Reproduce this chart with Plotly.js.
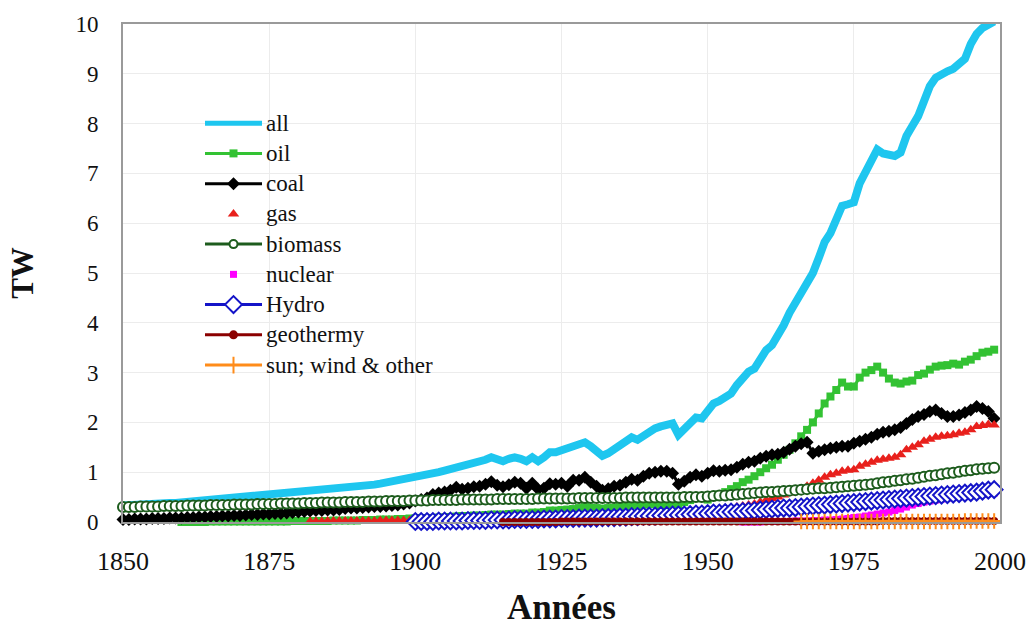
<!DOCTYPE html>
<html><head><meta charset="utf-8">
<script src="https://cdn.plot.ly/plotly-3.0.1.min.js"></script>
<style>html,body{margin:0;padding:0;background:#fff}#chart{width:1029px;height:628px}</style>
</head><body><div id="chart"></div>
<script>
// ---- data (TW), one value per year from the given start year ----
const seriesNames = ["all", "oil", "coal", "gas", "biomass", "nuclear", "Hydro", "geothermy", "sun; wind & other"];
const xTickValues = [1850, 1875, 1900, 1925, 1950, 1975, 2000];
const yTickValues = [0, 1, 2, 3, 4, 5, 6, 7, 8, 9, 10];

const allStart = 1850;
const allValues = [
 0.33,0.34,0.34,0.35,0.36,0.36,0.37,0.37,0.38,0.38,
 0.39,0.40,0.40,0.41,0.42,0.43,0.44,0.45,0.46,0.47,
 0.48,0.49,0.50,0.51,0.52,0.53,0.54,0.55,0.56,0.57,
 0.58,0.59,0.60,0.62,0.63,0.64,0.65,0.66,0.68,0.69,
 0.71,0.72,0.74,0.75,0.77,0.79,0.81,0.84,0.86,0.88,
 0.90,0.93,0.95,0.98,1.00,1.03,1.06,1.10,1.09,1.13,
 1.17,1.19,1.25,1.30,1.24,1.22,1.27,1.30,1.27,1.22,
 1.30,1.22,1.30,1.40,1.40,1.44,1.45,1.53,1.54,1.60,
 1.52,1.43,1.33,1.38,1.46,1.52,1.62,1.70,1.65,1.74,
 1.82,1.88,1.92,1.95,1.98,1.75,1.88,2.02,2.10,2.08,
 2.22,2.38,2.43,2.50,2.58,2.75,2.92,3.02,3.08,3.30,
 3.45,3.55,3.72,3.95,4.20,4.40,4.60,4.78,5.00,5.30,
 5.62,5.80,6.10,6.35,6.38,6.42,6.80,7.05,7.25,7.48,
 7.40,7.36,7.35,7.42,7.75,7.95,8.15,8.45,8.75,8.92,
 9.00,9.05,9.10,9.20,9.30,9.60,9.80,9.92,10.00,10.05];

const oilStart = 1860;
const oilValues = [
 0.00,0.00,0.00,0.00,0.00,0.01,0.01,0.01,0.01,0.01,
 0.01,0.01,0.01,0.01,0.01,0.01,0.01,0.01,0.01,0.02,
 0.02,0.02,0.02,0.02,0.02,0.02,0.03,0.03,0.03,0.03,
 0.03,0.04,0.04,0.04,0.05,0.05,0.05,0.06,0.06,0.07,
 0.07,0.08,0.08,0.08,0.09,0.09,0.10,0.11,0.12,0.12,
 0.13,0.13,0.14,0.15,0.15,0.15,0.16,0.17,0.17,0.17,
 0.19,0.19,0.20,0.23,0.23,0.24,0.25,0.26,0.28,0.30,
 0.29,0.28,0.27,0.28,0.29,0.30,0.32,0.34,0.34,0.35,
 0.36,0.36,0.34,0.36,0.38,0.36,0.40,0.44,0.48,0.48,
 0.45,0.50,0.55,0.60,0.66,0.72,0.80,0.85,0.92,1.00,
 1.08,1.15,1.25,1.35,1.45,1.58,1.72,1.85,2.00,2.18,
 2.38,2.52,2.65,2.80,2.72,2.72,2.90,3.00,3.05,3.12,
 3.00,2.88,2.80,2.78,2.82,2.84,2.95,2.98,3.06,3.12,
 3.14,3.15,3.18,3.16,3.22,3.26,3.33,3.40,3.42,3.46];

const coalStart = 1850;
const coalValues = [
 0.05,0.05,0.06,0.06,0.06,0.07,0.07,0.07,0.08,0.08,
 0.08,0.09,0.09,0.10,0.10,0.11,0.11,0.12,0.12,0.13,
 0.13,0.14,0.15,0.15,0.16,0.16,0.17,0.17,0.18,0.19,
 0.20,0.21,0.22,0.23,0.23,0.24,0.24,0.25,0.27,0.28,
 0.28,0.29,0.30,0.31,0.31,0.32,0.33,0.34,0.36,0.38,
 0.42,0.45,0.48,0.55,0.58,0.60,0.64,0.70,0.66,0.68,
 0.71,0.72,0.76,0.81,0.74,0.71,0.75,0.80,0.78,0.68,
 0.78,0.66,0.68,0.77,0.76,0.78,0.72,0.84,0.84,0.90,
 0.80,0.72,0.64,0.67,0.72,0.74,0.80,0.86,0.84,0.92,
 0.98,1.00,1.02,1.02,0.98,0.76,0.82,0.90,0.95,0.92,
 0.98,1.03,1.02,1.04,1.05,1.10,1.16,1.20,1.22,1.28,
 1.32,1.35,1.36,1.40,1.46,1.52,1.57,1.60,1.38,1.42,
 1.45,1.48,1.50,1.52,1.52,1.58,1.62,1.66,1.70,1.76,
 1.80,1.82,1.85,1.90,1.98,2.06,2.12,2.16,2.22,2.25,
 2.18,2.12,2.12,2.15,2.20,2.25,2.32,2.28,2.22,2.08];

const gasStart = 1882;
const gasValues = [
 0.01,0.01,0.01,0.02,0.02,0.02,0.02,0.02,
 0.02,0.02,0.02,0.02,0.03,0.03,0.03,0.03,0.03,0.03,
 0.04,0.04,0.04,0.04,0.05,0.05,0.05,0.06,0.06,0.06,
 0.07,0.07,0.07,0.08,0.08,0.08,0.08,0.09,0.09,0.09,
 0.09,0.09,0.10,0.10,0.11,0.11,0.12,0.12,0.13,0.13,
 0.13,0.12,0.12,0.12,0.13,0.13,0.14,0.15,0.15,0.16,
 0.17,0.17,0.18,0.18,0.19,0.19,0.20,0.21,0.22,0.23,
 0.24,0.25,0.26,0.27,0.28,0.30,0.32,0.34,0.36,0.40,
 0.44,0.47,0.50,0.54,0.58,0.62,0.66,0.72,0.78,0.84,
 0.90,0.95,0.98,1.02,1.04,1.05,1.12,1.16,1.20,1.24,
 1.26,1.28,1.30,1.35,1.45,1.50,1.55,1.62,1.66,1.70,
 1.72,1.73,1.75,1.78,1.80,1.85,1.92,1.94,1.96,1.95];

const biomassStart = 1850;
const biomassValues = [
 0.30,0.30,0.30,0.31,0.31,0.31,0.31,0.32,0.32,0.32,
 0.32,0.33,0.33,0.33,0.33,0.34,0.34,0.34,0.34,0.35,
 0.35,0.35,0.35,0.36,0.36,0.36,0.36,0.37,0.37,0.37,
 0.37,0.38,0.38,0.38,0.39,0.39,0.39,0.39,0.40,0.40,
 0.40,0.40,0.41,0.41,0.41,0.42,0.42,0.42,0.42,0.43,
 0.43,0.43,0.43,0.44,0.44,0.44,0.44,0.44,0.45,0.45,
 0.45,0.45,0.45,0.45,0.46,0.46,0.46,0.46,0.46,0.46,
 0.46,0.47,0.47,0.47,0.47,0.47,0.47,0.47,0.48,0.48,
 0.48,0.48,0.48,0.48,0.48,0.48,0.49,0.49,0.49,0.49,
 0.49,0.49,0.49,0.49,0.49,0.49,0.50,0.50,0.50,0.50,
 0.51,0.52,0.53,0.53,0.54,0.55,0.56,0.57,0.58,0.59,
 0.60,0.60,0.61,0.62,0.63,0.64,0.65,0.66,0.67,0.68,
 0.68,0.69,0.70,0.71,0.72,0.73,0.74,0.75,0.76,0.78,
 0.80,0.81,0.83,0.84,0.86,0.87,0.89,0.91,0.93,0.94,
 0.96,0.98,0.99,1.01,1.03,1.04,1.06,1.07,1.08,1.09];

const nuclearStart = 1956;
const nuclearValues = [
 0.00,0.00,0.00,0.00,0.01,0.01,0.01,0.01,0.01,0.02,0.02,0.02,0.03,0.03,
 0.04,0.04,0.05,0.06,0.07,0.09,0.10,0.12,0.14,0.16,
 0.18,0.20,0.23,0.26,0.30,0.34,0.37,0.40,0.42,0.44,
 0.46,0.48,0.50,0.51,0.52,0.53,0.55,0.56,0.57,0.58];

const hydroStart = 1900;
const hydroValues = [
 0.01,0.01,0.01,0.01,0.02,0.02,0.02,0.02,0.02,0.03,
 0.03,0.03,0.03,0.04,0.04,0.04,0.04,0.05,0.05,0.05,
 0.05,0.05,0.06,0.06,0.06,0.07,0.07,0.07,0.08,0.08,
 0.08,0.08,0.09,0.09,0.09,0.10,0.10,0.11,0.11,0.12,
 0.12,0.12,0.13,0.13,0.14,0.14,0.14,0.15,0.16,0.16,
 0.17,0.18,0.18,0.19,0.20,0.20,0.21,0.22,0.23,0.24,
 0.25,0.26,0.27,0.28,0.28,0.29,0.30,0.31,0.32,0.33,
 0.34,0.35,0.36,0.37,0.38,0.39,0.40,0.41,0.42,0.43,
 0.44,0.45,0.46,0.47,0.48,0.49,0.50,0.51,0.52,0.53,
 0.54,0.55,0.56,0.57,0.58,0.59,0.60,0.62,0.64,0.65];

const geothermyStart = 1915;
const geothermyValues = [
 0.00,0.00,0.00,0.00,0.00,
 0.00,0.00,0.00,0.00,0.00,0.01,0.01,0.01,0.01,0.01,
 0.01,0.01,0.01,0.01,0.01,0.01,0.01,0.01,0.01,0.01,
 0.01,0.01,0.01,0.01,0.01,0.01,0.01,0.01,0.01,0.01,
 0.01,0.01,0.01,0.01,0.01,0.01,0.01,0.01,0.01,0.01,
 0.01,0.01,0.01,0.01,0.01,0.01,0.01,0.01,0.01,0.01,
 0.01,0.01,0.01,0.01,0.01,0.01,0.01,0.01,0.01,0.01,
 0.02,0.02,0.02,0.02,0.02,0.02,0.02,0.02,0.02,0.02,
 0.02,0.02,0.02,0.02,0.02,0.02,0.02,0.02,0.02,0.02];

const sunStart = 1966;
const sunValues = [
 0.01,0.01,0.01,0.01,
 0.01,0.01,0.01,0.01,0.01,0.01,0.01,0.01,0.01,0.01,
 0.01,0.01,0.01,0.01,0.01,0.01,0.01,0.01,0.01,0.01,
 0.01,0.01,0.01,0.01,0.02,0.02,0.02,0.02,0.02,0.02];

// ---- styling ----
const FONT = 'Liberation Serif, Times New Roman, Times, serif';
const years = (start, vals) => vals.map((v, i) => start + i);

const styles = [
  {start: allStart, vals: allValues, mode: 'lines', line: {color: '#1ec6ef', width: 8}, marker: {}},
  {start: oilStart, vals: oilValues, mode: 'lines+markers', line: {color: '#33c233', width: 3},
   marker: {symbol: 'square', size: 8, color: '#33c233'}},
  {start: coalStart, vals: coalValues, mode: 'lines+markers', line: {color: '#000000', width: 3},
   marker: {symbol: 'diamond', size: 10, color: '#000000'}},
  {start: gasStart, vals: gasValues, mode: 'markers', line: {color: '#e8201c', width: 0},
   marker: {symbol: 'triangle-up', size: 10, color: '#e8201c'}},
  {start: biomassStart, vals: biomassValues, mode: 'lines+markers', line: {color: '#1d5c1d', width: 3},
   marker: {symbol: 'circle', size: 10, color: '#ffffff', line: {color: '#1d5c1d', width: 2}}},
  {start: nuclearStart, vals: nuclearValues, mode: 'markers', line: {color: '#ff00ff', width: 0},
   marker: {symbol: 'square', size: 7, color: '#ff00ff'}},
  {start: hydroStart, vals: hydroValues, mode: 'lines+markers', line: {color: '#1414c8', width: 3},
   marker: {symbol: 'diamond', size: 13, color: '#ffffff', line: {color: '#1414c8', width: 2}}},
  {start: geothermyStart, vals: geothermyValues, mode: 'lines+markers', line: {color: '#8b0000', width: 3},
   marker: {symbol: 'circle', size: 8, color: '#8b0000'}},
  {start: sunStart, vals: sunValues, mode: 'lines+markers', line: {color: '#ff8c1a', width: 3},
   marker: {symbol: 'cross-thin', size: 11, color: '#ff8c1a', line: {color: '#ff8c1a', width: 2}}}
];

const traces = styles.map((s, i) => ({
  type: 'scatter', name: seriesNames[i], x: years(s.start, s.vals), y: s.vals,
  mode: s.mode, line: s.line, marker: s.marker, cliponaxis: false, showlegend: false,
  xaxis: 'x', yaxis: 'y'
}));

// ---- custom legend drawn on a small hidden subplot (x2 range 0..4, samples span 0..1) ----
const legendSizes = [0, 8, 10, 10, 8, 7, 13, 9, 12];
const legendAnnotations = [];
styles.forEach((s, i) => {
  if (s.mode !== 'markers') {
    traces.push({type: 'scatter', x: [0, 1], y: [-i, -i], mode: 'lines', xaxis: 'x2', yaxis: 'y2',
      line: {color: s.line.color, width: i === 0 ? 5 : 3}, showlegend: false, hoverinfo: 'skip'});
  }
  if (i > 0) {
    const m = Object.assign({}, s.marker, {size: legendSizes[i]});
    traces.push({type: 'scatter', x: [0.5], y: [-i], mode: 'markers', xaxis: 'x2', yaxis: 'y2',
      marker: m, showlegend: false, hoverinfo: 'skip', cliponaxis: false});
  }
  legendAnnotations.push({xref: 'x2', yref: 'y2', x: 1.03, y: -i, text: seriesNames[i], showarrow: false,
    xanchor: 'left', yanchor: 'middle', font: {family: FONT, size: 23, color: '#111'}});
});

const layout = {
  width: 1029, height: 628,
  margin: {l: 123, r: 29, t: 24, b: 106},
  paper_bgcolor: '#ffffff', plot_bgcolor: 'rgba(0,0,0,0)',
  showlegend: false,
  font: {family: FONT, color: '#111'},
  xaxis: {
    range: [1850, 2000], tickvals: xTickValues, ticktext: xTickValues.map(String),
    showgrid: true, gridcolor: '#ececec', gridwidth: 1,
    showline: true, linecolor: '#9a9a9a', linewidth: 2, mirror: true,
    zeroline: false, ticks: '', ticklabelstandoff: 15,
    tickfont: {family: FONT, size: 26, color: '#111'},
    title: {text: '<b>Années</b>', font: {family: FONT, size: 35, color: '#111'}, standoff: 19}
  },
  yaxis: {
    range: [0, 10], tickvals: yTickValues, ticktext: yTickValues.map(String),
    showgrid: true, gridcolor: '#ececec', gridwidth: 1,
    showline: true, linecolor: '#9a9a9a', linewidth: 2, mirror: true,
    zeroline: false, ticks: '', ticklabelstandoff: 18,
    tickfont: {family: FONT, size: 23, color: '#111'},
    title: {text: '<b>TW</b>', font: {family: FONT, size: 31, color: '#111'}, standoff: 33}
  },
  xaxis2: {domain: [0.0935, 0.3535], range: [0, 4], visible: false, anchor: 'y2', fixedrange: true},
  yaxis2: {domain: [0.285, 0.833], range: [-8.496, 0.529], visible: false, anchor: 'x2', fixedrange: true},
  annotations: legendAnnotations
};

Plotly.newPlot('chart', traces, layout, {staticPlot: true, displayModeBar: false});
</script>
</body></html>
